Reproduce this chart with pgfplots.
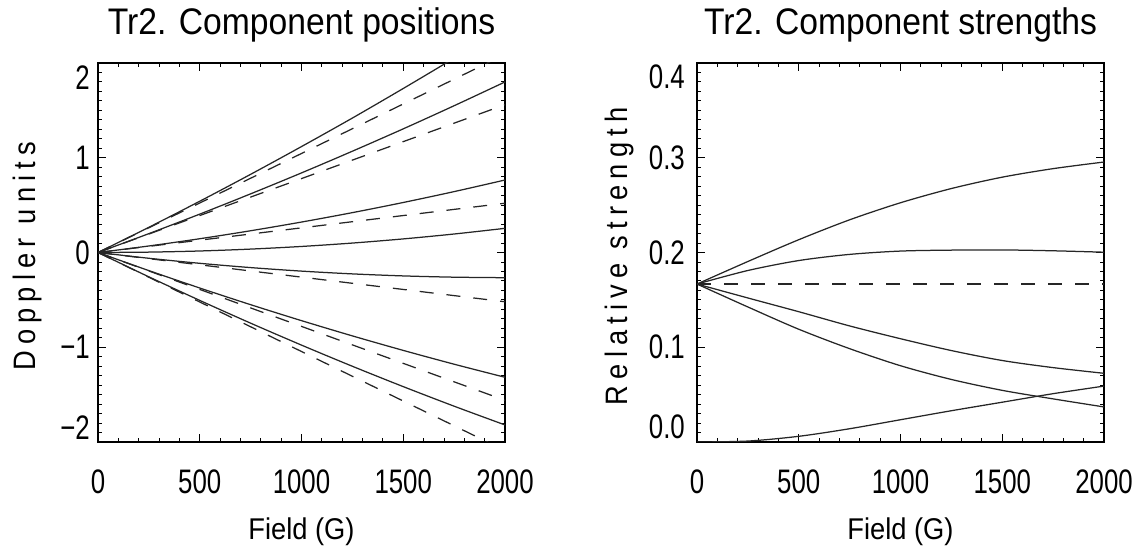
\documentclass[border=0pt]{standalone}
\usepackage{fontspec}
\setmainfont{Liberation Sans}
\newfontfamily\titlefont{Liberation Sans}[FakeStretch=0.91,WordSpace=1.6]
\newfontfamily\xlabfont{Liberation Sans}[FakeStretch=0.91]
\newfontfamily\ylabfont{Liberation Sans}[FakeStretch=0.88,LetterSpace=20]
\newfontfamily\tickfont{Liberation Sans}[FakeStretch=0.76]
\usepackage{pgfplots}
\pgfplotsset{compat=1.18}
\pgfplotsset{
  myaxis/.style={
    scale only axis, width=407pt, height=379pt, anchor=south west,
    xmin=0, xmax=2000,
    xtick={0,500,1000,1500,2000},
    xticklabels={0,500,1000,1500,2000},
    minor x tick num=4,
    minor y tick num=9,
    tick align=inside,
    major tick length=8pt, minor tick length=4.3pt,
    every tick/.style={black, line width=0.9pt},
    axis line style={line width=1.1pt, black},
    xticklabel style={font=\tickfont\fontsize{34}{34}\selectfont, anchor=north, inner sep=0pt, yshift=-28pt},
    yticklabel style={font=\tickfont\fontsize{34}{34}\selectfont, anchor=east, inner sep=0pt},
    title style={font=\titlefont\fontsize{37}{40}\selectfont, at={(0.5,1)}, anchor=base, yshift=22pt, inner sep=0pt},
    xlabel style={font=\xlabfont\fontsize{30}{30}\selectfont, at={(axis description cs:0.5,0)}, anchor=base, yshift=-98pt, inner sep=0pt},
    extra y tick style={major tick length=0pt},
  },
  sol/.style={black!85, line width=1.25pt, smooth},
  das/.style={black!85, line width=1.25pt, dash pattern=on 14pt off 13pt},
}
\begin{document}
\begin{tikzpicture}[x=1pt,y=1pt]
\useasboundingbox (0,0) rectangle (1135,548);
\begin{axis}[myaxis, at={(98pt,106pt)},
  ymin=-2, ymax=2,
  ytick={-2,-1,0,1,2},
  yticklabels={,−1,0,1,},
  extra y ticks={-1.85,1.85},
  extra y tick labels={−2,2},
  yticklabel style={xshift=-8pt},
  title={Tr2. Component positions},
  xlabel={Field (G)},
  ylabel={\ylabfont\fontsize{31}{31}\selectfont Doppler units},
  ylabel style={at={(axis description cs:-0.153,0.49)}, anchor=base, inner sep=0pt},
]
% solid lines (Paschen-Back)
\addplot[sol] coordinates {(0,0) (250,0.266) (500,0.541) (750,0.825) (1000,1.118) (1250,1.419) (1500,1.731) (1750,2.051) (2000,2.38)};
\addplot[sol] coordinates {(0,0) (250,0.199) (500,0.405) (750,0.619) (1000,0.84) (1250,1.069) (1500,1.305) (1750,1.549) (2000,1.80)};
\addplot[sol] coordinates {(0,0) (250,0.0688) (500,0.1453) (750,0.2295) (1000,0.3213) (1250,0.4207) (1500,0.5278) (1750,0.6426) (2000,0.765)};
\addplot[sol] coordinates {(0,0) (250,0.004) (500,0.0159) (750,0.0359) (1000,0.0638) (1250,0.0996) (1500,0.1434) (1750,0.1952) (2000,0.255)};
\addplot[sol] coordinates {(0,0) (250,-0.061) (500,-0.1141) (750,-0.1593) (1000,-0.1965) (1250,-0.2258) (1500,-0.2471) (1750,-0.2605) (2000,-0.266)};
\addplot[sol] coordinates {(0,0) (250,-0.1912) (500,-0.3748) (750,-0.5508) (1000,-0.7192) (1250,-0.8801) (1500,-1.0333) (1750,-1.179) (2000,-1.317)};
\addplot[sol] coordinates {(0,0) (250,-0.2571) (500,-0.5056) (750,-0.7458) (1000,-0.9775) (1250,-1.2008) (1500,-1.4156) (1750,-1.6221) (2000,-1.82)};
% dashed lines (Zeeman)
\addplot[das] coordinates {(0,0) (2000,2.09)};
\addplot[das] coordinates {(0,0) (2000,1.56)};
\addplot[das] coordinates {(0,0) (2000,0.52)};
\addplot[das] coordinates {(0,0) (2000,-0.52)};
\addplot[das] coordinates {(0,0) (2000,-1.56)};
\addplot[das] coordinates {(0,0) (2000,-2.09)};
\end{axis}
\begin{axis}[myaxis, at={(697pt,106pt)},
  ymin=0, ymax=0.4,
  ytick={0,0.1,0.2,0.3,0.4},
  yticklabels={,0.1,0.2,0.3,},
  extra y ticks={0.016,0.385},
  extra y tick labels={0.0,0.4},
  yticklabel style={xshift=-12pt},
  title={Tr2. Component strengths},
  xlabel={Field (G)},
  ylabel={\ylabfont\fontsize{31}{31}\selectfont Relative strength},
  ylabel style={at={(axis description cs:-0.170,0.49)}, anchor=base, inner sep=0pt},
]
\addplot[sol] coordinates {(0,0.1667) (250,0.1905) (500,0.2135) (750,0.2345) (1000,0.2525) (1250,0.2675) (1500,0.2795) (1750,0.2885) (2000,0.2955)};
\addplot[sol] coordinates {(0,0.1667) (250,0.181) (500,0.1915) (750,0.198) (1000,0.2015) (1250,0.2025) (1500,0.2027) (1750,0.2018) (2000,0.2003)};
\addplot[sol] coordinates {(0,0.1667) (250,0.152) (500,0.1375) (750,0.1225) (1000,0.109) (1250,0.0965) (1500,0.086) (1750,0.0785) (2000,0.0725)};
\addplot[sol] coordinates {(0,0.1667) (250,0.1425) (500,0.119) (750,0.0985) (1000,0.0805) (1250,0.066) (1500,0.0545) (1750,0.0455) (2000,0.037)};
\addplot[sol] coordinates {(0,0) (250,0.001) (500,0.006) (750,0.014) (1000,0.0235) (1250,0.033) (1500,0.042) (1750,0.051) (2000,0.059)};
\addplot[das] coordinates {(0,0.1667) (2000,0.1667)};
\end{axis}
\end{tikzpicture}
\end{document}
